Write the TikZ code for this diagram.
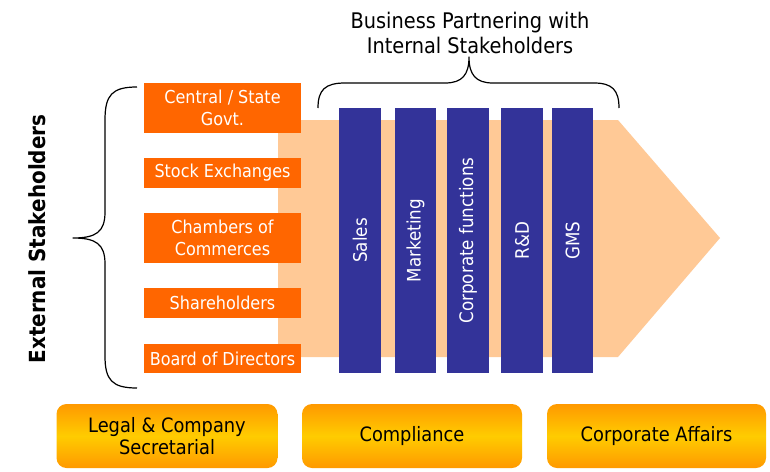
\documentclass[tikz,border=0pt]{standalone}
\usepackage{fontspec}
\setmainfont{DejaVu Sans Condensed}
\usetikzlibrary{shapes.geometric}

\definecolor{extorange}{HTML}{FF6600}
\definecolor{peach}{HTML}{FFC996}
\definecolor{barblue}{HTML}{333399}
\definecolor{goldedge}{HTML}{FF9900}
\definecolor{goldmid}{HTML}{FFCC00}

\begin{document}
\begin{tikzpicture}[x=1pt, y=-1pt,
  extbox/.style={fill=extorange, text=white, minimum width=157pt, align=center,
    inner sep=0pt, font=\fontsize{17.8}{22}\selectfont},
  intbar/.style={fill=barblue, text=white, rotate=90, minimum width=265pt,
    minimum height=42pt, inner sep=0pt, font=\fontsize{18.6}{22}\selectfont},
  basebox/.style={rounded corners=10pt, top color=goldedge, bottom color=goldedge,
    middle color=goldmid, minimum height=64pt, align=center, inner sep=0pt,
    font=\fontsize{19.8}{22}\selectfont},
  bracket/.style={line width=1.2pt, line join=round}]

\useasboundingbox (0,0) rectangle (770,471);

  % value chain arrow
  \fill[peach] (278,120) -- (618,120) -- (720,238) -- (618,357) -- (278,357) -- cycle;

  % external stakeholders
  \node[extbox, minimum height=50pt] (govt) at (222.5,108) {Central / State\\Govt.};
  \node[extbox, minimum height=30pt] (stock) at (222.5,173) {Stock Exchanges};
  \node[extbox, minimum height=50pt] (chambers) at (222.5,238) {Chambers of\\Commerces};
  \node[extbox, minimum height=30pt] (holders) at (222.5,303) {Shareholders};
  \node[extbox, minimum height=29pt] (board) at (222.5,358.5) {Board of Directors};

  % internal stakeholders
  \node[intbar] (sales) at (360,240.5) {Sales};
  \node[intbar, minimum height=41pt] (marketing) at (415.5,240.5) {Marketing};
  \node[intbar] (corporate) at (468,240.5) {Corporate functions};
  \node[intbar] (rnd) at (522,240.5) {R\&D};
  \node[intbar, minimum height=41pt] (gms) at (572.5,240.5) {GMS};

  % braces
  \draw[bracket] (137,87) .. controls (112,87) and (105,95) .. (105,120) -- (105,212)
    .. controls (105,232) and (96,238) .. (73,238)
    .. controls (96,238) and (105,244) .. (105,264) -- (105,356)
    .. controls (105,380) and (112,388) .. (137,388);
  \draw[bracket] (318,108) .. controls (318,90) and (325,83) .. (345,83) -- (445,83)
    .. controls (462,83) and (469,75) .. (469,57)
    .. controls (469,75) and (476,83) .. (493,83) -- (594,83)
    .. controls (612,83) and (619,90) .. (619,108);

  % labels
  \node[align=center, font=\fontsize{21.5}{25}\selectfont] (partnering) at (470,33)
    {Business Partnering with\\Internal Stakeholders};
  \node[rotate=90, font=\bfseries\fontsize{22.2}{26}\selectfont] (external) at (37,239)
    {External Stakeholders};

  % support functions
  \node[basebox, minimum width=221pt] (legal) at (167,436) {Legal \& Company\\Secretarial};
  \node[basebox, minimum width=220pt] (compliance) at (412,436) {Compliance};
  \node[basebox, minimum width=219pt] (affairs) at (656.5,436) {Corporate Affairs};
\end{tikzpicture}
\end{document}
